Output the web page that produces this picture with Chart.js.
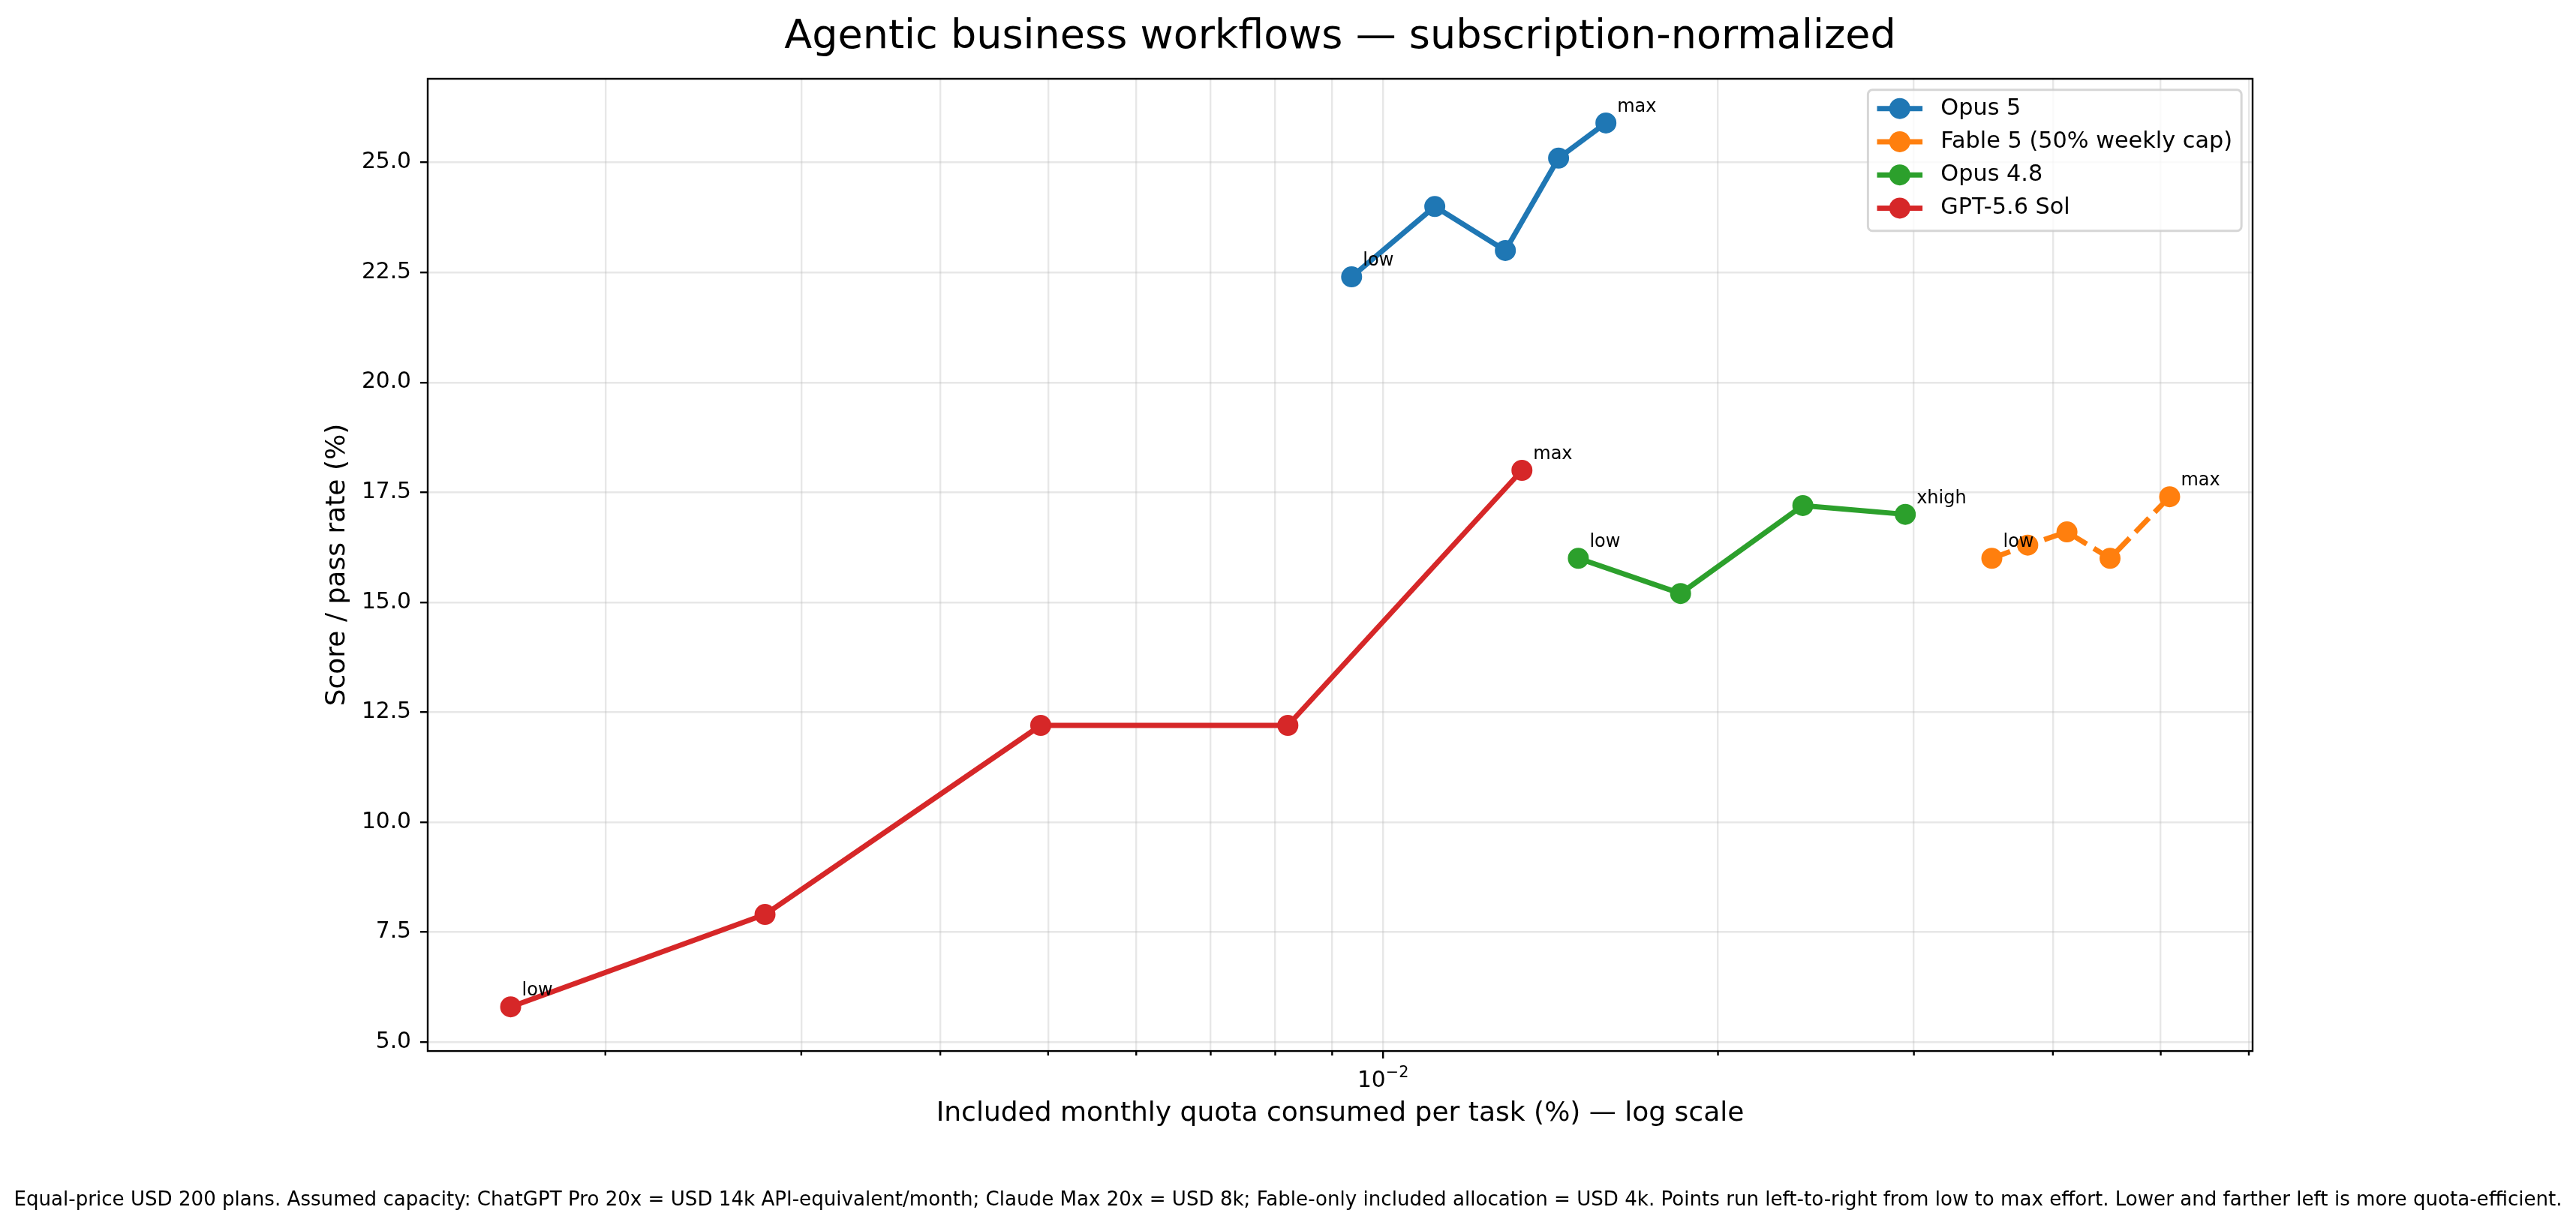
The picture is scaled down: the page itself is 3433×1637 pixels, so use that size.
<!DOCTYPE html>
<html><head><meta charset="utf-8">
<script src="https://cdn.jsdelivr.net/npm/chart.js@4/dist/chart.umd.min.js"></script>
<style>html,body{margin:0;padding:0;background:#fff;overflow:hidden}canvas{display:block}</style>
</head><body>
<canvas id="c" width="3433" height="1637" style="width:3433px;height:1637px"></canvas>
<script>
// ---------------- data ----------------
const seriesNames = ['Opus 5', 'Fable 5 (50% weekly cap)', 'Opus 4.8', 'GPT-5.6 Sol'];
const opus5X  = [0.00937, 0.01113, 0.01288, 0.01438, 0.01586];
const opus5Y  = [22.4, 24.0, 23.0, 25.1, 25.9];
const fable5X = [0.03525, 0.03797, 0.04118, 0.04502, 0.05093];
const fable5Y = [16.0, 16.3, 16.6, 16.0, 17.4];
const opus48X = [0.01498, 0.01851, 0.02384, 0.02947];
const opus48Y = [16.0, 15.2, 17.2, 17.0];
const gptX    = [0.001644, 0.002783, 0.004924, 0.008212, 0.01333];
const gptY    = [5.8, 7.9, 12.2, 12.2, 18.0];
const firstLabels = ['low', 'low', 'low', 'low'];
const lastLabels  = ['max', 'max', 'xhigh', 'max'];
const yTicks = [5, 7.5, 10, 12.5, 15, 17.5, 20, 22.5, 25];
const xTicks = [0.002, 0.003, 0.004, 0.005, 0.006, 0.007, 0.008, 0.009, 0.01, 0.02, 0.03, 0.04, 0.05, 0.06];
// major tick labels as [base, exponent]; empty for minor ticks
const xTickBase = ['', '', '', '', '', '', '', '', '10', '', '', '', '', ''];
const xTickExp  = ['', '', '', '', '', '', '', '', '\u22122', '', '', '', '', ''];
const titleText = 'Agentic business workflows \u2014 subscription-normalized';
const xTitle = 'Included monthly quota consumed per task (%) \u2014 log scale';
const yTitle = 'Score / pass rate (%)';
const footnote = 'Equal-price USD 200 plans. Assumed capacity: ChatGPT Pro 20x = USD 14k API-equivalent/month; Claude Max 20x = USD 8k; Fable-only included allocation = USD 4k. Points run left-to-right from low to max effort. Lower and farther left is more quota-efficient.';

// ---------------- styling ----------------
const FAMILY = '"DejaVu Sans", sans-serif';
const colors = ['#1f77b4', '#ff7f0e', '#2ca02c', '#d62728'];
const dashes = [[], [26, 11], [], []];
const xs = [opus5X, fable5X, opus48X, gptX];
const ys = [opus5Y, fable5Y, opus48Y, gptY];
const pairs = (X, Y) => X.map((v, i) => ({x: v, y: Y[i]}));

// axis limits with 5% margins (log for x, linear for y)
const allX = [].concat(...xs), allY = [].concat(...ys);
const lxMin = Math.log10(Math.min(...allX)), lxMax = Math.log10(Math.max(...allX));
const lpad = 0.05 * (lxMax - lxMin);
const xMin = Math.pow(10, lxMin - lpad), xMax = Math.pow(10, lxMax + lpad);
const yLo = Math.min(...allY), yHi = Math.max(...allY), ypad = 0.05 * (yHi - yLo);
const yMin = yLo - ypad, yMax = yHi + ypad;

const FS = 29.7;           // 10pt
const LFS = 30.3;          // legend font
const gridColor = 'rgba(176,176,176,0.3)';

Chart.defaults.font.family = FAMILY;
Chart.defaults.color = '#000';

const decor = {
  id: 'decor',
  afterDatasetsDraw(chart) {
    const {ctx, chartArea: a} = chart;
    const sx = chart.scales.x;
    ctx.save();
    // effort annotations
    ctx.font = `24px ${FAMILY}`;
    ctx.fillStyle = '#000';
    ctx.textAlign = 'left';
    ctx.textBaseline = 'alphabetic';
    chart.data.datasets.forEach((ds, i) => {
      const meta = chart.getDatasetMeta(i).data;
      const p0 = meta[0], p1 = meta[meta.length - 1];
      ctx.fillText(firstLabels[i], p0.x + 15, p0.y - 15);
      ctx.fillText(lastLabels[i], p1.x + 15, p1.y - 15);
    });
    // x tick marks (major long, minor short) and major labels with superscript exponent
    ctx.strokeStyle = '#000';
    ctx.lineWidth = 2.4;
    xTicks.forEach((v, i) => {
      const px = sx.getPixelForValue(v);
      const major = !!xTickBase[i];
      ctx.beginPath(); ctx.moveTo(px, a.bottom); ctx.lineTo(px, a.bottom + (major ? 10 : 6)); ctx.stroke();
      if (major) {
        ctx.font = `${FS}px ${FAMILY}`;
        const w1 = ctx.measureText(xTickBase[i]).width;
        ctx.font = `${FS * 0.7}px ${FAMILY}`;
        const w2 = ctx.measureText(xTickExp[i]).width;
        const x0 = px - (w1 + w2) / 2;
        const base = a.bottom + 48;
        ctx.fillStyle = '#000';
        ctx.textBaseline = 'alphabetic';
        ctx.font = `${FS}px ${FAMILY}`;
        ctx.fillText(xTickBase[i], x0, base);
        ctx.font = `${FS * 0.7}px ${FAMILY}`;
        ctx.fillText(xTickExp[i], x0 + w1, base - 13);
      }
    });
    // spines
    ctx.lineWidth = 2.4;
    ctx.strokeRect(a.left, a.top, a.right - a.left, a.bottom - a.top);
    // legend
    ctx.font = `${LFS}px ${FAMILY}`;
    const tw = Math.max(...seriesNames.map(n => ctx.measureText(n).width));
    const pad = 0.4 * LFS, hl = 2 * LFS, htp = 0.8 * LFS;
    const w = pad + hl + htp + tw + pad;
    const h = 6.2 * LFS;
    const right = a.right - 0.5 * FS, top = a.top + 0.5 * FS;
    const left = right - w;
    ctx.beginPath();
    ctx.roundRect(left, top, w, h, 6);
    ctx.fillStyle = 'rgba(255,255,255,0.8)';
    ctx.fill();
    ctx.strokeStyle = 'rgba(204,204,204,0.8)';
    ctx.lineWidth = 3;
    ctx.stroke();
    seriesNames.forEach((n, i) => {
      const cy = top + 0.82 * LFS + i * 1.46 * LFS;
      ctx.strokeStyle = colors[i];
      ctx.lineWidth = 7;
      ctx.setLineDash(dashes[i]);
      ctx.beginPath(); ctx.moveTo(left + pad, cy); ctx.lineTo(left + pad + hl, cy); ctx.stroke();
      ctx.setLineDash([]);
      ctx.fillStyle = colors[i];
      ctx.beginPath(); ctx.arc(left + pad + hl / 2, cy, 14, 0, Math.PI * 2); ctx.fill();
      ctx.fillStyle = '#000';
      ctx.textBaseline = 'middle';
      ctx.fillText(n, left + pad + hl + htp, cy);
    });
    ctx.restore();
  }
};

new Chart(document.getElementById('c'), {
  type: 'line',
  data: {
    datasets: seriesNames.map((n, i) => ({
      label: n,
      data: pairs(xs[i], ys[i]),
      borderColor: colors[i],
      backgroundColor: colors[i],
      pointBackgroundColor: colors[i],
      pointBorderColor: colors[i],
      borderWidth: 7,
      borderDash: dashes[i],
      borderJoinStyle: 'round',
      pointRadius: 13,
      pointBorderWidth: 2,
      pointHoverRadius: 13,
      fill: false,
      tension: 0
    }))
  },
  options: {
    responsive: false,
    animation: false,
    devicePixelRatio: 1,
    layout: {padding: 0},
    plugins: {
      legend: {display: false},
      tooltip: {enabled: false},
      title: {
        display: true, text: titleText, fullSize: false, color: '#000',
        font: {family: FAMILY, size: 54, weight: 'normal'},
        padding: {top: 18, bottom: 22.2}
      },
      subtitle: {
        display: true, text: footnote, position: 'bottom', fullSize: true, color: '#000',
        font: {family: FAMILY, size: 26.1, weight: 'normal'},
        padding: {top: 0, bottom: 21}
      }
    },
    scales: {
      x: {
        type: 'logarithmic', position: 'bottom', min: xMin, max: xMax,
        afterBuildTicks: s => { s.ticks = xTicks.map(v => ({value: v})); },
        afterFit: s => { s.height = 183.6; },
        ticks: {
          autoSkip: false, maxRotation: 0, minRotation: 0, padding: 10, color: '#000',
          font: {family: FAMILY, size: FS},
          callback: () => ''
        },
        grid: {
          color: gridColor, lineWidth: 2.4, tickLength: 10, tickWidth: 2.4,
          tickColor: 'rgba(0,0,0,0)'
        },
        border: {display: false},
        title: {display: true, text: xTitle, color: '#000', font: {family: FAMILY, size: 36}, padding: {top: 0, bottom: 78}}
      },
      y: {
        type: 'linear', position: 'left', min: yMin, max: yMax,
        afterBuildTicks: s => { s.ticks = yTicks.map(v => ({value: v})); },
        afterFit: s => { s.width = 570; },
        ticks: {padding: 12, color: '#000', font: {family: FAMILY, size: FS}, callback: v => Number(v).toFixed(1)},
        grid: {color: gridColor, lineWidth: 2.4, tickLength: 10, tickWidth: 2.4, tickColor: '#000'},
        border: {display: false},
        title: {display: true, text: yTitle, color: '#000', font: {family: FAMILY, size: 36}, padding: {top: 428, bottom: 0}}
      },
      y2: {
        type: 'linear', position: 'right', display: true,
        grid: {display: false}, ticks: {display: false}, border: {display: false},
        afterFit: s => { s.width = 431; }
      }
    }
  },
  plugins: [decor]
});
</script>
</body></html>
